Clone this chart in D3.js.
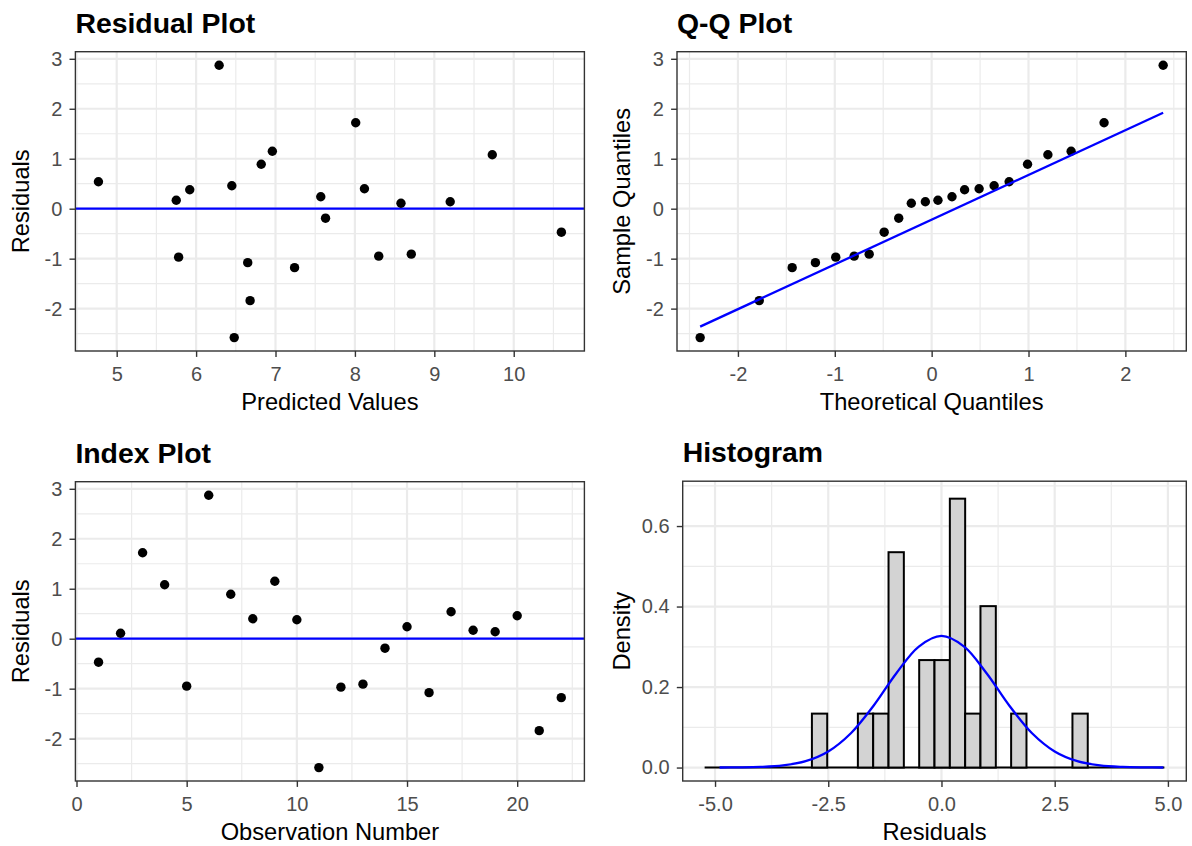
<!DOCTYPE html>
<html><head><meta charset="utf-8">
<script src="https://cdn.jsdelivr.net/npm/d3@7"></script>
<style>
body{margin:0;background:#fff}
text{font-family:"Liberation Sans",Arial,sans-serif}
</style>
</head><body>
<svg id="chart" width="1192" height="846"></svg>
<script>
// ---------- data ----------
const observation = [1,2,3,4,5,6,7,8,9,10,11,12,13,14,15,16,17,18,19,20,21,22];
const residuals = [-0.47,0.11,1.72,1.08,-0.95,2.87,0.89,0.40,1.15,0.38,-2.58,-0.97,-0.91,-0.19,0.24,-1.08,0.54,0.17,0.14,0.46,-1.84,-1.18];
const predicted = [10.60,8.58,8.01,9.73,8.30,6.29,6.82,8.12,6.96,5.92,6.48,5.78,8.71,7.63,7.57,6.65,4.77,5.75,9.20,6.45,6.68,7.24];

const theoreticalQ = [-2.39,-1.78,-1.44,-1.20,-0.99,-0.80,-0.645,-0.49,-0.34,-0.21,-0.065,0.065,0.21,0.34,0.49,0.645,0.80,0.99,1.20,1.44,1.78,2.39];
const sampleQ = [-2.58,-1.84,-1.18,-1.08,-0.97,-0.95,-0.91,-0.47,-0.19,0.11,0.14,0.17,0.24,0.38,0.40,0.46,0.54,0.89,1.08,1.15,1.72,2.87];
const qqLineX = [-2.39, 2.39];
const qqLineY = [-2.36, 1.92];

const binEdges = [-5.230,-4.892,-4.553,-4.215,-3.876,-3.538,-3.200,-2.861,-2.523,-2.184,-1.846,-1.508,-1.169,-0.831,-0.492,-0.154,0.185,0.523,0.861,1.200,1.538,1.877,2.215,2.554,2.892,3.230,3.569,3.907,4.246,4.584,4.922];
const binDensity = [0,0,0,0,0,0,0,0.134,0,0,0.134,0.134,0.535,0,0.267,0.267,0.668,0.134,0.401,0,0.134,0,0,0,0.134,0,0,0,0,0];
const curveX = [-4.9,-4.5,-4,-3.5,-3,-2.5,-2,-1.5,-1,-0.5,0,0.5,1,1.5,2,2.5,3,3.5,4,4.5,4.9];
const curveY = [0.0001,0.0004,0.0015,0.0053,0.0159,0.0401,0.0853,0.1536,0.2337,0.3006,0.327,0.3006,0.2337,0.1536,0.0853,0.0401,0.0159,0.0053,0.0015,0.0004,0.0001];

// ticks
const residTicks = [-2,-1,0,1,2,3];
const residMinor = [-2.5,-1.5,-0.5,0.5,1.5,2.5];
const predTicks = [5,6,7,8,9,10];
const predMinor = [4.5,5.5,6.5,7.5,8.5,9.5,10.5];
const qqTicks = [-2,-1,0,1,2];
const qqMinor = [-2.5,-1.5,-0.5,0.5,1.5,2.5];
const obsTicks = [0,5,10,15,20];
const obsMinor = [2.5,7.5,12.5,17.5,22.5];
const histXTicks = [-5,-2.5,0,2.5,5];
const histXMinor = [-3.75,-1.25,1.25,3.75];
const densTicks = [0,0.2,0.4,0.6];
const densMinor = [0.1,0.3,0.5,0.7];

// ---------- drawing ----------
const svg = d3.select('#chart');
const TICK = 5.9, TICKFS = 20, AXFS = 23.7, TITLEFS = 28.4;

function panel(o){
  const g = svg.append('g');
  const xs = d3.scaleLinear().domain(o.xDomain).range([o.x0, o.x1]);
  const ys = d3.scaleLinear().domain(o.yDomain).range([o.y1, o.y0]);
  g.append('rect').attr('x',o.x0).attr('y',o.y0).attr('width',o.x1-o.x0).attr('height',o.y1-o.y0).attr('fill','#fff');
  const grid = g.append('g');
  const vline = (v,w)=>grid.append('line').attr('x1',xs(v)).attr('x2',xs(v)).attr('y1',o.y0).attr('y2',o.y1).attr('stroke','#ebebeb').attr('stroke-width',w);
  const hline = (v,w)=>grid.append('line').attr('y1',ys(v)).attr('y2',ys(v)).attr('x1',o.x0).attr('x2',o.x1).attr('stroke','#ebebeb').attr('stroke-width',w);
  o.xMinor.forEach(v=>vline(v,1.2)); o.yMinor.forEach(v=>hline(v,1.2));
  o.xTicks.forEach(v=>vline(v,2.2)); o.yTicks.forEach(v=>hline(v,2.2));
  const content = g.append('g');
  o.draw(content, xs, ys);
  g.append('rect').attr('x',o.x0).attr('y',o.y0).attr('width',o.x1-o.x0).attr('height',o.y1-o.y0)
    .attr('fill','none').attr('stroke','#333').attr('stroke-width',1.4);
  const ax = g.append('g').attr('transform',`translate(0,${o.y1})`)
    .call(d3.axisBottom(xs).tickValues(o.xTicks).tickFormat(o.xFmt).tickSize(TICK).tickPadding(9.9).tickSizeOuter(0));
  const ay = g.append('g').attr('transform',`translate(${o.x0},0)`)
    .call(d3.axisLeft(ys).tickValues(o.yTicks).tickFormat(o.yFmt).tickSize(TICK).tickPadding(7.2).tickSizeOuter(0));
  [ax,ay].forEach(a=>{
    a.select('.domain').remove();
    a.attr('font-family',null).attr('font-size',null);
    a.selectAll('line').attr('stroke','#333').attr('stroke-width',1.4);
    a.selectAll('text').attr('fill','#4d4d4d').style('font-size',TICKFS+'px');
  });
  g.append('text').attr('x',o.x0).attr('y',o.y0-19).text(o.title)
    .style('font-size',TITLEFS+'px').style('font-weight','bold').attr('fill','#000');
  g.append('text').attr('x',(o.x0+o.x1)/2).attr('y',o.y1+59).attr('text-anchor','middle').text(o.xTitle)
    .style('font-size',AXFS+'px').attr('fill','#000');
  g.append('text').attr('transform',`translate(${o.yTitleX},${(o.y0+o.y1)/2}) rotate(-90)`).attr('text-anchor','middle').text(o.yTitle)
    .style('font-size',AXFS+'px').attr('fill','#000');
}

const hyph = s=>s.replace('\u2212','-');
const intFmt = d=>hyph(d3.format('d')(d));
const f1 = d=>hyph(d3.format('.1f')(d));

// Residual plot
panel({x0:75.4,x1:584.4,y0:51.7,y1:351,
  xDomain:[4.48,10.89], yDomain:[-2.848,3.142],
  xTicks:predTicks, xMinor:predMinor, yTicks:residTicks, yMinor:residMinor,
  xFmt:intFmt, yFmt:intFmt,
  title:'Residual Plot', xTitle:'Predicted Values', yTitle:'Residuals', yTitleX:28.5,
  draw:(c,xs,ys)=>{
    c.append('line').attr('x1',xs.range()[0]).attr('x2',xs.range()[1]).attr('y1',ys(0)).attr('y2',ys(0))
      .attr('stroke','#0000ff').attr('stroke-width',2.3);
    c.selectAll('circle').data(residuals).join('circle')
      .attr('cx',(d,i)=>xs(predicted[i])).attr('cy',d=>ys(d)).attr('r',4.7).attr('fill','#000');
  }});

// Q-Q plot
panel({x0:677,x1:1186.3,y0:51.7,y1:351,
  xDomain:[-2.629,2.629], yDomain:[-2.848,3.142],
  xTicks:qqTicks, xMinor:qqMinor, yTicks:residTicks, yMinor:residMinor,
  xFmt:intFmt, yFmt:intFmt,
  title:'Q-Q Plot', xTitle:'Theoretical Quantiles', yTitle:'Sample Quantiles', yTitleX:630,
  draw:(c,xs,ys)=>{
    c.selectAll('circle').data(sampleQ).join('circle')
      .attr('cx',(d,i)=>xs(theoreticalQ[i])).attr('cy',d=>ys(d)).attr('r',4.7).attr('fill','#000');
    c.append('line').attr('x1',xs(qqLineX[0])).attr('x2',xs(qqLineX[1])).attr('y1',ys(qqLineY[0])).attr('y2',ys(qqLineY[1]))
      .attr('stroke','#0000ff').attr('stroke-width',2.3);
  }});

// Index plot
panel({x0:75.4,x1:584.4,y0:481.7,y1:781,
  xDomain:[-0.05,23.05], yDomain:[-2.848,3.142],
  xTicks:obsTicks, xMinor:obsMinor, yTicks:residTicks, yMinor:residMinor,
  xFmt:intFmt, yFmt:intFmt,
  title:'Index Plot', xTitle:'Observation Number', yTitle:'Residuals', yTitleX:28.5,
  draw:(c,xs,ys)=>{
    c.append('line').attr('x1',xs.range()[0]).attr('x2',xs.range()[1]).attr('y1',ys(0)).attr('y2',ys(0))
      .attr('stroke','#0000ff').attr('stroke-width',2.3);
    c.selectAll('circle').data(residuals).join('circle')
      .attr('cx',(d,i)=>xs(observation[i])).attr('cy',d=>ys(d)).attr('r',4.7).attr('fill','#000');
  }});

// Histogram
panel({x0:682.7,x1:1186.3,y0:481.2,y1:781,
  xDomain:[-5.714,5.406], yDomain:[-0.0334,0.7114],
  xTicks:histXTicks, xMinor:histXMinor, yTicks:densTicks, yMinor:densMinor,
  xFmt:f1, yFmt:f1,
  title:'Histogram', xTitle:'Residuals', yTitle:'Density', yTitleX:630,
  draw:(c,xs,ys)=>{
    c.append('line').attr('x1',xs(binEdges[0])).attr('x2',xs(binEdges[binEdges.length-1])).attr('y1',ys(0)).attr('y2',ys(0))
      .attr('stroke','#000').attr('stroke-width',2);
    const bins = binDensity.map((d,i)=>({x0:binEdges[i],x1:binEdges[i+1],d})).filter(b=>b.d>0);
    c.selectAll('rect.bar').data(bins).join('rect').attr('class','bar')
      .attr('x',b=>xs(b.x0)).attr('width',b=>xs(b.x1)-xs(b.x0))
      .attr('y',b=>ys(b.d)).attr('height',b=>ys(0)-ys(b.d))
      .attr('fill','#d3d3d3').attr('stroke','#000').attr('stroke-width',2);
    const line = d3.line().x((d,i)=>xs(curveX[i])).y(d=>ys(d)).curve(d3.curveCatmullRom);
    c.append('path').attr('d',line(curveY)).attr('fill','none').attr('stroke','#0000ff').attr('stroke-width',2.3);
  }});
</script>
</body></html>
